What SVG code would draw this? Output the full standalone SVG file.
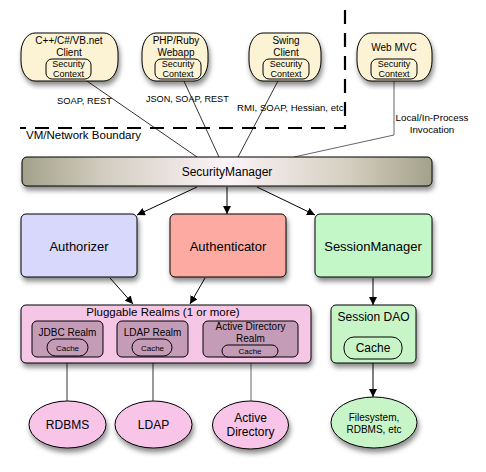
<svg xmlns="http://www.w3.org/2000/svg" width="486" height="472" viewBox="0 0 486 472">
<defs>
<filter id="sh" x="-20%" y="-20%" width="140%" height="160%">
<feDropShadow dx="1.5" dy="4" stdDeviation="2.5" flood-color="#000" flood-opacity="0.45"/>
</filter>
<linearGradient id="smg" x1="0" y1="0" x2="1" y2="0">
<stop offset="0" stop-color="#a3a18a"/>
<stop offset="0.2" stop-color="#d2cdc0"/>
<stop offset="0.5" stop-color="#fcf4f8"/>
<stop offset="0.8" stop-color="#d4cebf"/>
<stop offset="1" stop-color="#a3a18a"/>
</linearGradient>
<marker id="ah" viewBox="0 0 10 10" refX="10" refY="5" markerWidth="8" markerHeight="8" markerUnits="userSpaceOnUse" orient="auto">
<path d="M0,0 L10,5 L0,10 z" fill="#000"/>
</marker>
<style>
text{font-family:"Liberation Sans",Arial,sans-serif;fill:#000}
.cl{fill:#fcf2d4;stroke:#000;stroke-width:1}
.sc{fill:#fcf2d4;stroke:#000;stroke-width:1}
.ln{stroke:#000;stroke-width:0.8;fill:none}
.gl{stroke:#555;stroke-width:0.9;fill:none}
.ar{stroke:#000;stroke-width:1;fill:none;marker-end:url(#ah)}
.bx{stroke:#000;stroke-width:1}
.t10{font-size:10px;text-anchor:middle}
.t9{font-size:9px;text-anchor:middle}
.t8{font-size:8px;text-anchor:middle}
.t12{font-size:12px;text-anchor:middle}
.t13{font-size:13px;text-anchor:middle}
.lb{font-size:9.4px}
</style>
</defs>
<rect width="486" height="472" fill="#fff"/>

<g id="boundary">
<path d="M345,10 V128 H20" fill="none" stroke="#000" stroke-width="2.2" stroke-dasharray="14,9"/>
<text x="26" y="139" style="font-size:11.5px">VM/Network Boundary</text>
</g>

<g id="connectors">
<line class="ln" x1="84" y1="79" x2="197" y2="157"/>
<line class="ln" x1="183" y1="79" x2="219" y2="157"/>
<line class="ln" x1="279" y1="79" x2="238" y2="157"/>
<polyline class="gl" points="394,80 394,135 294,157"/>
<line class="ar" x1="197" y1="187" x2="137" y2="215"/>
<line class="ar" x1="227" y1="187" x2="227" y2="214"/>
<line class="ar" x1="257" y1="187" x2="315" y2="215"/>
<line class="ar" x1="110" y1="278" x2="133" y2="304"/>
<line class="ar" x1="205" y1="278" x2="190" y2="304"/>
<line class="ar" x1="373" y1="278" x2="373" y2="305"/>
<line class="ar" x1="373" y1="363" x2="373" y2="397"/>
<line class="ln" x1="67" y1="357" x2="67" y2="401"/>
<line class="ln" x1="153" y1="357" x2="153" y2="401"/>
<line class="gl" x1="251" y1="357" x2="251" y2="401"/>
<text x="57" y="104" class="lb">SOAP, REST</text>
<text x="146" y="102" class="lb" style="font-size:9.1px">JSON, SOAP, REST</text>
<text x="237" y="111" class="lb" style="font-size:9.6px">RMI, SOAP, Hessian, etc</text>
<text x="432" y="121" class="t10" style="font-size:9.8px">Local/In-Process</text>
<text x="432" y="133" class="t10" style="font-size:9.8px">Invocation</text>
</g>

<g id="client-cpp">
<rect class="cl" x="21" y="33" width="97" height="48" rx="14" ry="20" filter="url(#sh)"/>
<text x="69" y="44" class="t10">C++/C#/VB.net</text>
<text x="69" y="56" class="t10">Client</text>
<rect class="sc" x="46" y="59" width="45" height="20" rx="6"/>
<text x="68.5" y="67" class="t9">Security</text>
<text x="68.5" y="77" class="t9">Context</text>
</g>

<g id="client-php">
<rect class="cl" x="142" y="33" width="66" height="48" rx="14" ry="20" filter="url(#sh)"/>
<text x="176" y="44" class="t10">PHP/Ruby</text>
<text x="176" y="56" class="t10">Webapp</text>
<rect class="sc" x="155" y="59" width="46" height="20" rx="6"/>
<text x="178" y="67" class="t9">Security</text>
<text x="178" y="77" class="t9">Context</text>
</g>

<g id="client-swing">
<rect class="cl" x="249" y="33" width="72" height="48" rx="14" ry="20" filter="url(#sh)"/>
<text x="286" y="44" class="t10">Swing</text>
<text x="286" y="56" class="t10">Client</text>
<rect class="sc" x="263" y="59" width="46" height="20" rx="6"/>
<text x="286" y="67" class="t9">Security</text>
<text x="286" y="77" class="t9">Context</text>
</g>

<g id="client-webmvc">
<rect class="cl" x="357" y="33" width="75" height="48" rx="14" ry="20" filter="url(#sh)"/>
<text x="394" y="51" class="t10">Web MVC</text>
<rect class="sc" x="371" y="59" width="46" height="20" rx="6"/>
<text x="394" y="67" class="t9">Security</text>
<text x="394" y="77" class="t9">Context</text>
</g>

<g id="security-manager">
<rect class="bx" x="22" y="157" width="410" height="29" rx="5" fill="url(#smg)" filter="url(#sh)"/>
<text x="227" y="176" class="t12">SecurityManager</text>
</g>

<g id="authorizer">
<rect class="bx" x="21" y="214" width="116" height="63" rx="5" fill="#d8d7fc" filter="url(#sh)"/>
<text x="79" y="251" class="t13">Authorizer</text>
</g>

<g id="authenticator">
<rect class="bx" x="170" y="214" width="116" height="63" rx="5" fill="#fcaaa2" filter="url(#sh)"/>
<text x="228" y="251" class="t13">Authenticator</text>
</g>

<g id="session-manager">
<rect class="bx" x="315" y="214" width="117" height="63" rx="5" fill="#c4f7c8" filter="url(#sh)"/>
<text x="373" y="251" class="t13">SessionManager</text>
</g>

<g id="realms">
<rect class="bx" x="21" y="305" width="290" height="58" rx="5" fill="#f6c6e6" filter="url(#sh)"/>
<text x="163" y="316" style="font-size:11.5px;text-anchor:middle">Pluggable Realms (1 or more)</text>
</g>

<g id="jdbc-realm">
<rect class="bx" x="32" y="321" width="71" height="36" rx="5" fill="#c59cb8"/>
<text x="67.5" y="336" class="t10">JDBC Realm</text>
<rect class="bx" x="47" y="339" width="41" height="17" rx="8.5" fill="#c59cb8"/>
<text x="67.5" y="350.5" class="t8">Cache</text>
</g>

<g id="ldap-realm">
<rect class="bx" x="117" y="321" width="71" height="36" rx="5" fill="#c59cb8"/>
<text x="152.5" y="336" class="t10">LDAP Realm</text>
<rect class="bx" x="132" y="339" width="40" height="17" rx="8.5" fill="#c59cb8"/>
<text x="152.5" y="350.5" class="t8">Cache</text>
</g>

<g id="ad-realm">
<rect class="bx" x="203" y="321" width="95" height="36" rx="5" fill="#c59cb8"/>
<text x="250.5" y="330" class="t10">Active Directory</text>
<text x="250.5" y="342" class="t10">Realm</text>
<rect class="bx" x="222" y="345" width="56" height="12" rx="6" fill="#c59cb8"/>
<text x="250" y="354" class="t8">Cache</text>
</g>

<g id="session-dao">
<rect class="bx" x="331" y="305" width="85" height="58" rx="5" fill="#c8f5c8" filter="url(#sh)"/>
<text x="373.5" y="321" class="t12">Session DAO</text>
<rect class="bx" x="344" y="337" width="58" height="22" rx="10" fill="#c8f5c8"/>
<text x="373" y="352" class="t12">Cache</text>
</g>

<g id="rdbms">
<ellipse class="bx" cx="67.5" cy="424.5" rx="38.5" ry="23.5" fill="#f8c4e8" filter="url(#sh)"/>
<text x="67.5" y="429" class="t12">RDBMS</text>
</g>

<g id="ldap">
<ellipse class="bx" cx="153.5" cy="424.5" rx="38.5" ry="23.5" fill="#f8c4e8" filter="url(#sh)"/>
<text x="153.5" y="429" class="t12">LDAP</text>
</g>

<g id="active-directory">
<ellipse class="bx" cx="250.5" cy="425" rx="38" ry="24" fill="#f8c4e8" filter="url(#sh)"/>
<text x="250.5" y="422" class="t12">Active</text>
<text x="250.5" y="436" class="t12">Directory</text>
</g>

<g id="filesystem">
<ellipse class="bx" cx="374" cy="422.5" rx="43" ry="25.5" fill="#c8f5c8" filter="url(#sh)"/>
<text x="374" y="421" class="t10">Filesystem,</text>
<text x="374" y="433" class="t10">RDBMS, etc</text>
</g>
</svg>
